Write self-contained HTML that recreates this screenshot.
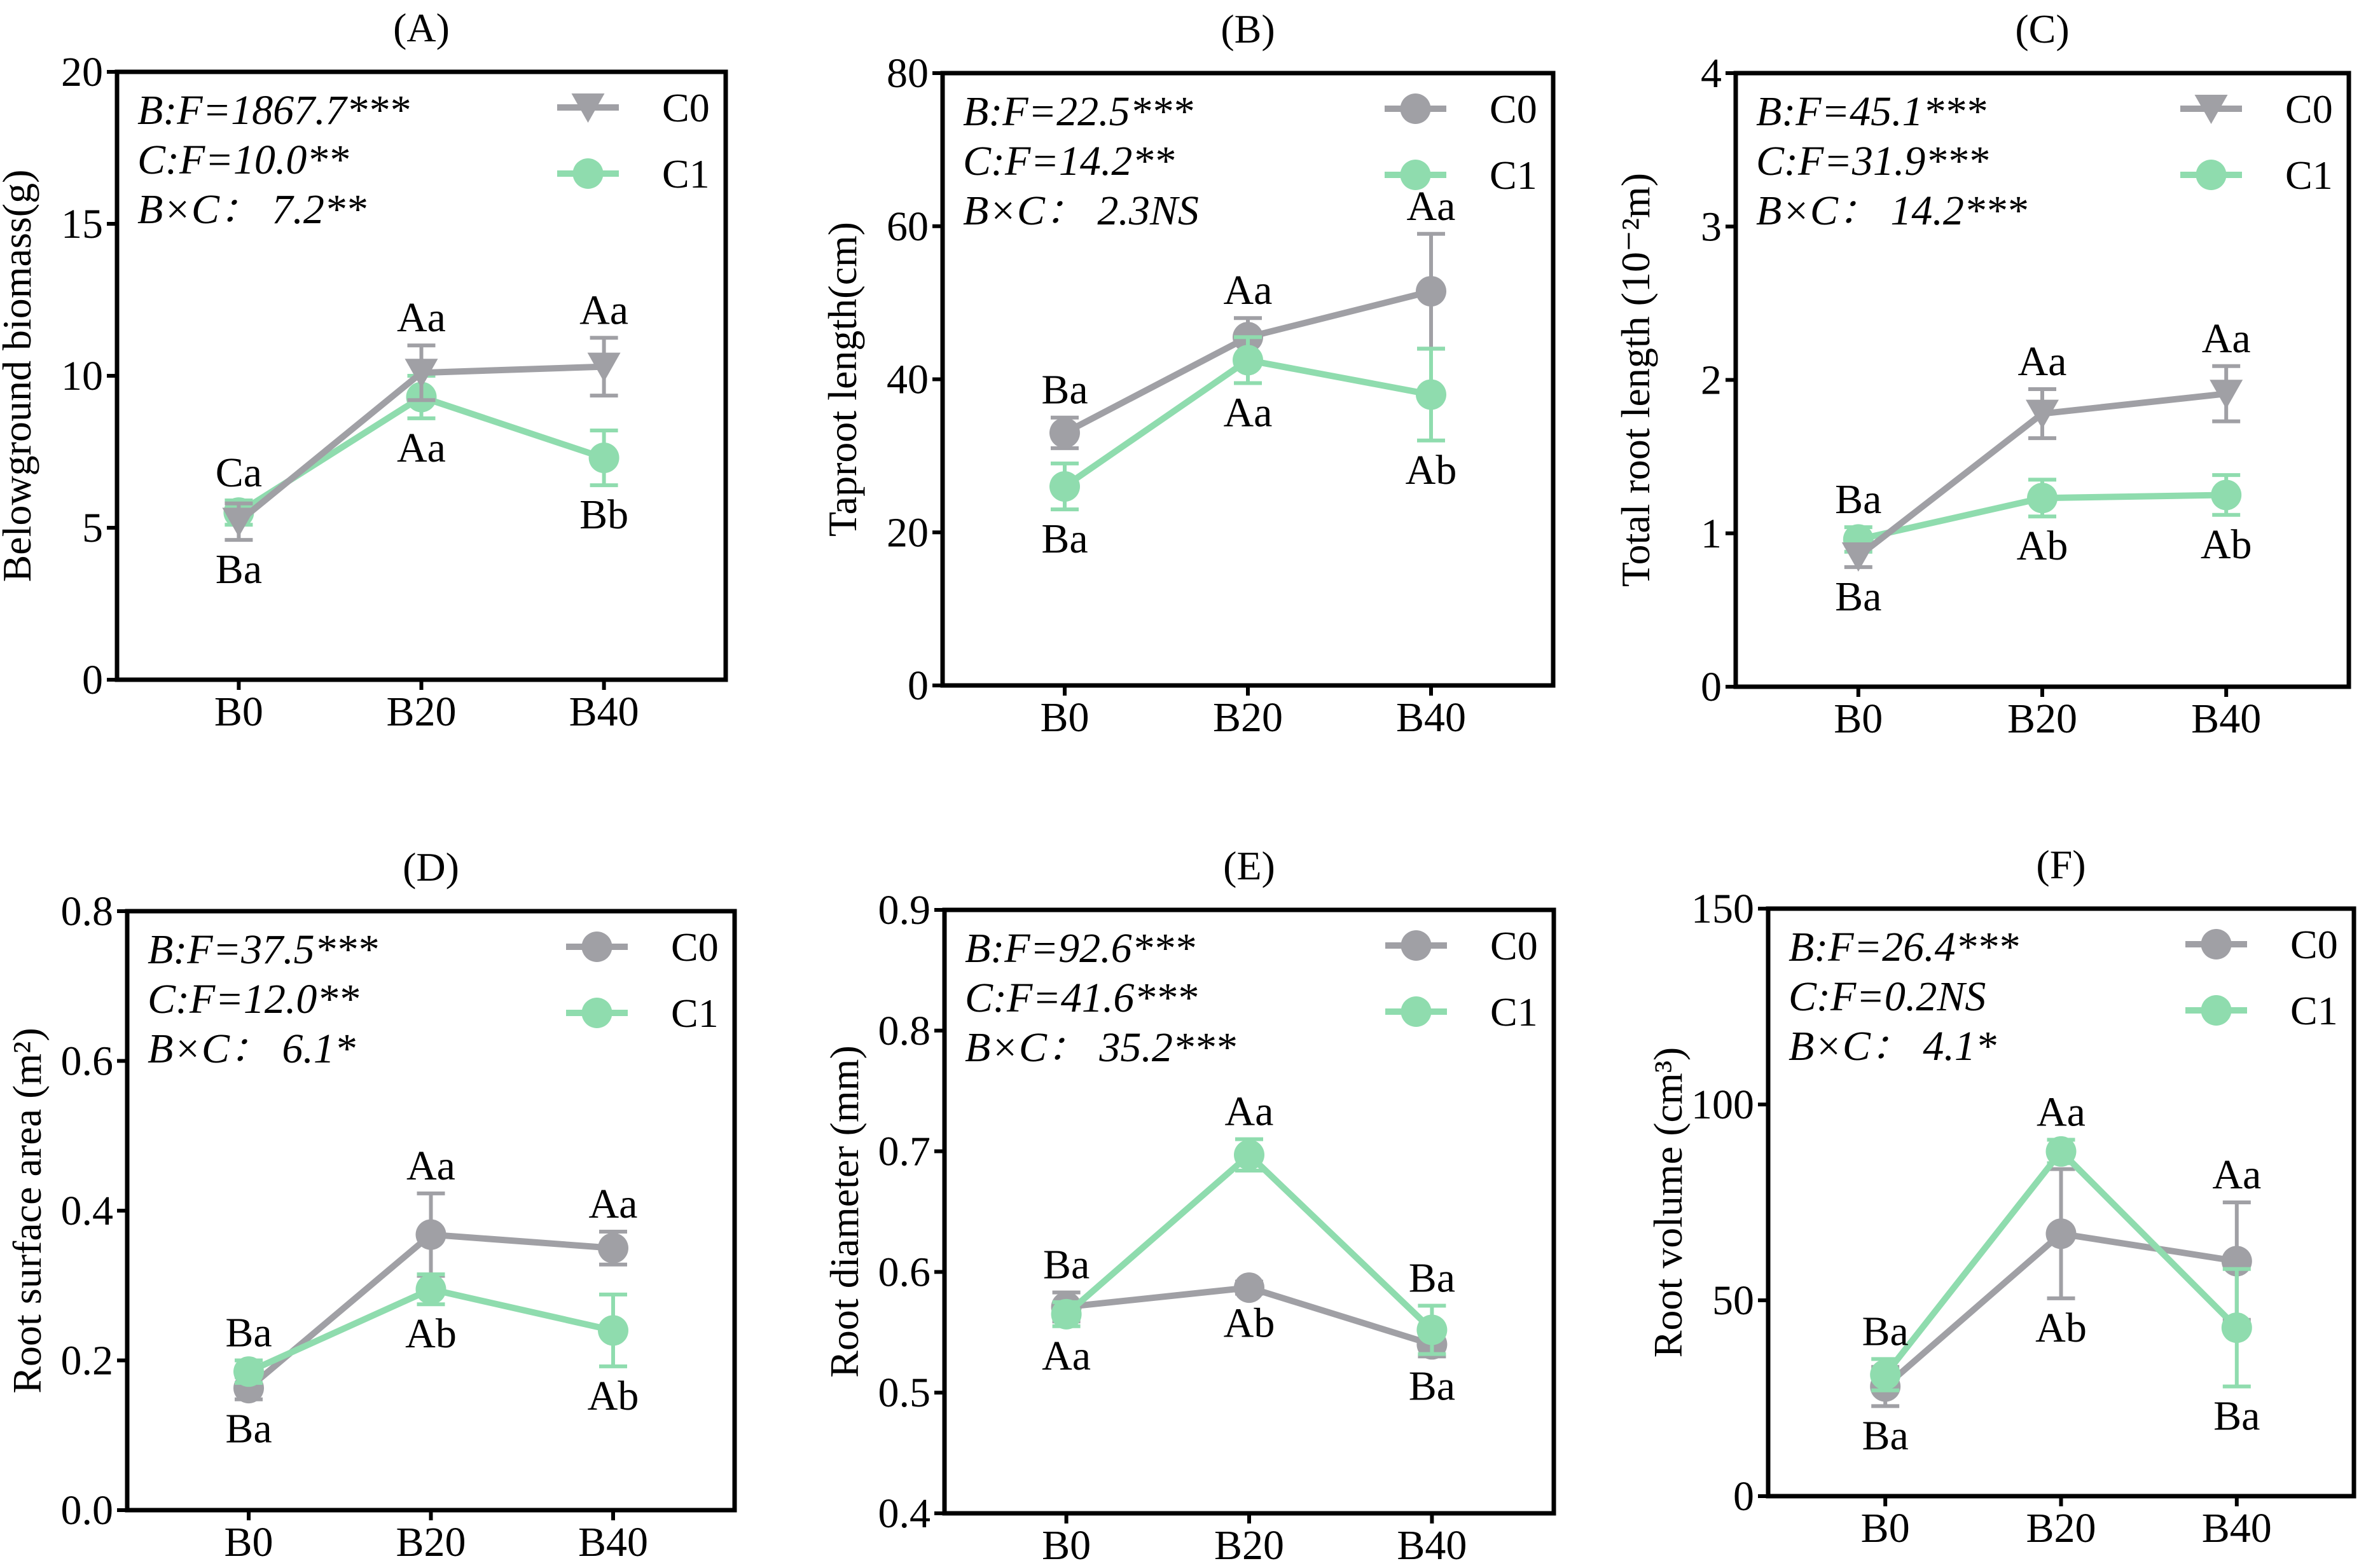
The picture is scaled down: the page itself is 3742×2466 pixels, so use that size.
<!DOCTYPE html>
<html><head><meta charset="utf-8"><style>
html,body{margin:0;padding:0;background:#fff;}
svg{display:block;}
svg text{font-family:"Liberation Serif","Noto Serif CJK SC",serif;}
</style></head><body>
<svg id="fig" width="3742" height="2466" viewBox="0 0 3742 2466" xmlns="http://www.w3.org/2000/svg" font-family="Liberation Serif, serif"></svg>
<script>
// ---- data ----
const categories = ["B0","B20","B40"];
const seriesNames = ["C0","C1"];
// Panel A
const aC0 = [5.2,10.1,10.3], aC0err = [0.6,0.9,0.95];
const aC1 = [5.5,9.3,7.3],   aC1err = [0.4,0.7,0.9];
const aTicks = [0,5,10,15,20];
const aLabelsUp = ["Ca","Aa","Aa"], aLabelsDown = ["Ba","Aa","Bb"];
// Panel B
const bC0 = [33,45.5,51.5], bC0err = [2,2.5,7.5];
const bC1 = [26,42.5,38],   bC1err = [3,3,6];
const bTicks = [0,20,40,60,80];
const bLabelsUp = ["Ba","Aa","Aa"], bLabelsDown = ["Ba","Aa","Ab"];
// Panel C
const cC0 = [0.85,1.78,1.91], cC0err = [0.07,0.16,0.18];
const cC1 = [0.96,1.23,1.25], cC1err = [0.08,0.12,0.13];
const cTicks = [0,1,2,3,4];
const cLabelsUp = ["Ba","Aa","Aa"], cLabelsDown = ["Ba","Ab","Ab"];
// Panel D
const dC0 = [0.163,0.368,0.350], dC0err = [0.015,0.055,0.022];
const dC1 = [0.185,0.295,0.240], dC1err = [0.015,0.02,0.048];
const dTicks = [0.0,0.2,0.4,0.6,0.8];
const dLabelsUp = ["Ba","Aa","Aa"], dLabelsDown = ["Ba","Ab","Ab"];
// Panel E
const eC0 = [0.571,0.587,0.540], eC0err = [0.012,0.005,0.01];
const eC1 = [0.565,0.697,0.552], eC1err = [0.01,0.013,0.02];
const eTicks = [0.4,0.5,0.6,0.7,0.8,0.9];
const eLabelsUp = ["Ba","Aa","Ba"], eLabelsDown = ["Aa","Ab","Ba"];
// Panel F
const fC0 = [28,67,60], fC0err = [5,16.5,15];
const fC1 = [31,88,43], fC1err = [4,3,15];
const fTicks = [0,50,100,150];
const fLabelsUp = ["Ba","Aa","Aa"], fLabelsDown = ["Ba","Ab","Ba"];

const GRAY="#a0a0a5", GREEN="#8fdcae";
const FONT="Liberation Serif, Noto Serif CJK SC, serif";
const svg=document.getElementById('fig');
const NS="http://www.w3.org/2000/svg";
function mk(tag,attrs,parent){const e=document.createElementNS(NS,tag);for(const k in attrs)e.setAttribute(k,attrs[k]);if(tag==='text')e.setAttribute('font-family',FONT);(parent||svg).appendChild(e);return e;}

const panels=[
 {id:"a",title:"(A)",L:184,R:1141,T:113,B:1069,ticks:aTicks,fmt:v=>String(v),c0:aC0,e0:aC0err,c1:aC1,e1:aC1err,up:aLabelsUp,dn:aLabelsDown,tri:true,
  ytitle:"Belowground biomass(g)",stats:["B:F=1867.7***","C:F=10.0**","B×C：  7.2**"]},
 {id:"b",title:"(B)",L:1482,R:2442,T:115,B:1078,ticks:bTicks,fmt:v=>String(v),c0:bC0,e0:bC0err,c1:bC1,e1:bC1err,up:bLabelsUp,dn:bLabelsDown,tri:false,
  ytitle:"Taproot length(cm)",stats:["B:F=22.5***","C:F=14.2**","B×C：  2.3NS"]},
 {id:"c",title:"(C)",L:2729,R:3693,T:115,B:1080,ticks:cTicks,fmt:v=>String(v),c0:cC0,e0:cC0err,c1:cC1,e1:cC1err,up:cLabelsUp,dn:cLabelsDown,tri:true,
  ytitle:"Total root length (10⁻²m)",stats:["B:F=45.1***","C:F=31.9***","B×C：  14.2***"]},
 {id:"d",title:"(D)",L:200,R:1155,T:1433,B:2375,ticks:dTicks,fmt:v=>v.toFixed(1),c0:dC0,e0:dC0err,c1:dC1,e1:dC1err,up:dLabelsUp,dn:dLabelsDown,tri:false,
  ytitle:"Root surface area (m²)",stats:["B:F=37.5***","C:F=12.0**","B×C：  6.1*"]},
 {id:"e",title:"(E)",L:1485,R:2443,T:1431,B:2380,ticks:eTicks,fmt:v=>v.toFixed(1),c0:eC0,e0:eC0err,c1:eC1,e1:eC1err,up:eLabelsUp,dn:eLabelsDown,tri:false,
  ytitle:"Root diameter (mm)",stats:["B:F=92.6***","C:F=41.6***","B×C：  35.2***"]},
 {id:"f",title:"(F)",L:2780,R:3701,T:1429,B:2353,ticks:fTicks,fmt:v=>String(v),c0:fC0,e0:fC0err,c1:fC1,e1:fC1err,up:fLabelsUp,dn:fLabelsDown,tri:false,
  ytitle:"Root volume (cm³)",stats:["B:F=26.4***","C:F=0.2NS","B×C：  4.1*"]}
];

function marker(g,x,y,color,tri,name){
  let m;
  if(tri){m=mk('polygon',{points:`${x-26},${y-22} ${x+26},${y-22} ${x},${y+24}`,fill:color},g);}
  else{m=mk('circle',{cx:x,cy:y,r:24,fill:color},g);}
  
  
}

panels.forEach(p=>{
  const g=mk('g',{});
  
  
  const W=p.R-p.L,H=p.B-p.T;
  const ymin=p.ticks[0],ymax=p.ticks[p.ticks.length-1];
  const X=i=>p.L+W*(0.2+0.3*i);
  const Y=v=>p.B-(v-ymin)/(ymax-ymin)*H;
  const t=mk('text',{x:(p.L+p.R)/2,y:p.T-48,'font-size':64,'text-anchor':'middle'},g);t.textContent=p.title;
  
  
  p.ticks.forEach(v=>{
    mk('line',{x1:p.L-16,x2:p.L,y1:Y(v),y2:Y(v),stroke:'#000','stroke-width':6},g);
    const tl=mk('text',{x:p.L-22,y:Y(v)+22,'font-size':66,'text-anchor':'end'},g);tl.textContent=p.fmt(v);
    
    
  });
  categories.forEach((c,i)=>{
    mk('line',{x1:X(i),x2:X(i),y1:p.B,y2:p.B+16,stroke:'#000','stroke-width':6},g);
    const tl=mk('text',{x:X(i),y:p.B+72,'font-size':66,'text-anchor':'middle'},g);tl.textContent=c;
    
    
  });
  const cy=(p.T+p.B)/2, tx=p.L-136;
  const yt=mk('text',{x:tx,y:cy,'font-size':64,'text-anchor':'middle',transform:`rotate(-90 ${tx} ${cy})`},g);yt.textContent=p.ytitle;
  
  
  const series=[{v:p.c0,e:p.e0,col:GRAY,tri:p.tri,n:'c0'},{v:p.c1,e:p.e1,col:GREEN,tri:false,n:'c1'}];
  const order = (p.id==='a'||p.id==='c') ? [1,0] : [0,1];
  order.forEach(si=>{
    const s=series[si];
    s.v.forEach((v,i)=>{
      const eb=mk('path',{d:`M${X(i)},${Y(v+s.e[i])}V${Y(v-s.e[i])}M${X(i)-22},${Y(v+s.e[i])}H${X(i)+22}M${X(i)-22},${Y(v-s.e[i])}H${X(i)+22}`,stroke:s.col,'stroke-width':6,fill:'none'},g);
      
      
    });
    const ln=mk('polyline',{points:s.v.map((v,i)=>X(i)+','+Y(v)).join(' '),stroke:s.col,'stroke-width':10,fill:'none','stroke-linejoin':'round'},g);
    
    
    s.v.forEach((v,i)=>marker(g,X(i),Y(v),s.col,s.tri,'point-'+s.n+'-'+categories[i].toLowerCase()));
  });
  categories.forEach((c,i)=>{
    const top=Math.max(p.c0[i]+p.e0[i],p.c1[i]+p.e1[i]);
    const bot=Math.min(p.c0[i]-p.e0[i],p.c1[i]-p.e1[i]);
    const u=mk('text',{x:X(i),y:Y(top)-22,'font-size':66,'text-anchor':'middle'},g);u.textContent=p.up[i];
    
    
    const d=mk('text',{x:X(i),y:Y(bot)+68,'font-size':66,'text-anchor':'middle'},g);d.textContent=p.dn[i];
    
    
  });
  p.stats.forEach((s,k)=>{
    const st=mk('text',{x:p.L+32,y:p.T+82+k*78,'font-size':66,'font-style':'italic'},g);st.textContent=s;
    
    
  });
  const lx1=p.R-265,lx2=p.R-168;
  series.forEach((s,k)=>{
    const ly=p.T+56+k*104;
    const lg=mk('g',{},g);
    
    
    mk('line',{x1:lx1,x2:lx2,y1:ly,y2:ly,stroke:s.col,'stroke-width':10},lg);
    marker(lg,(lx1+lx2)/2,ly,s.col,s.tri,'legend-marker');
    const lt=mk('text',{x:p.R-100,y:ly+22,'font-size':64},lg);lt.textContent=seriesNames[k];
  });
  const fr=mk('rect',{x:p.L,y:p.T,width:W,height:H,fill:'none',stroke:'#000','stroke-width':7},g);
  
  
});
</script>
</body></html>
